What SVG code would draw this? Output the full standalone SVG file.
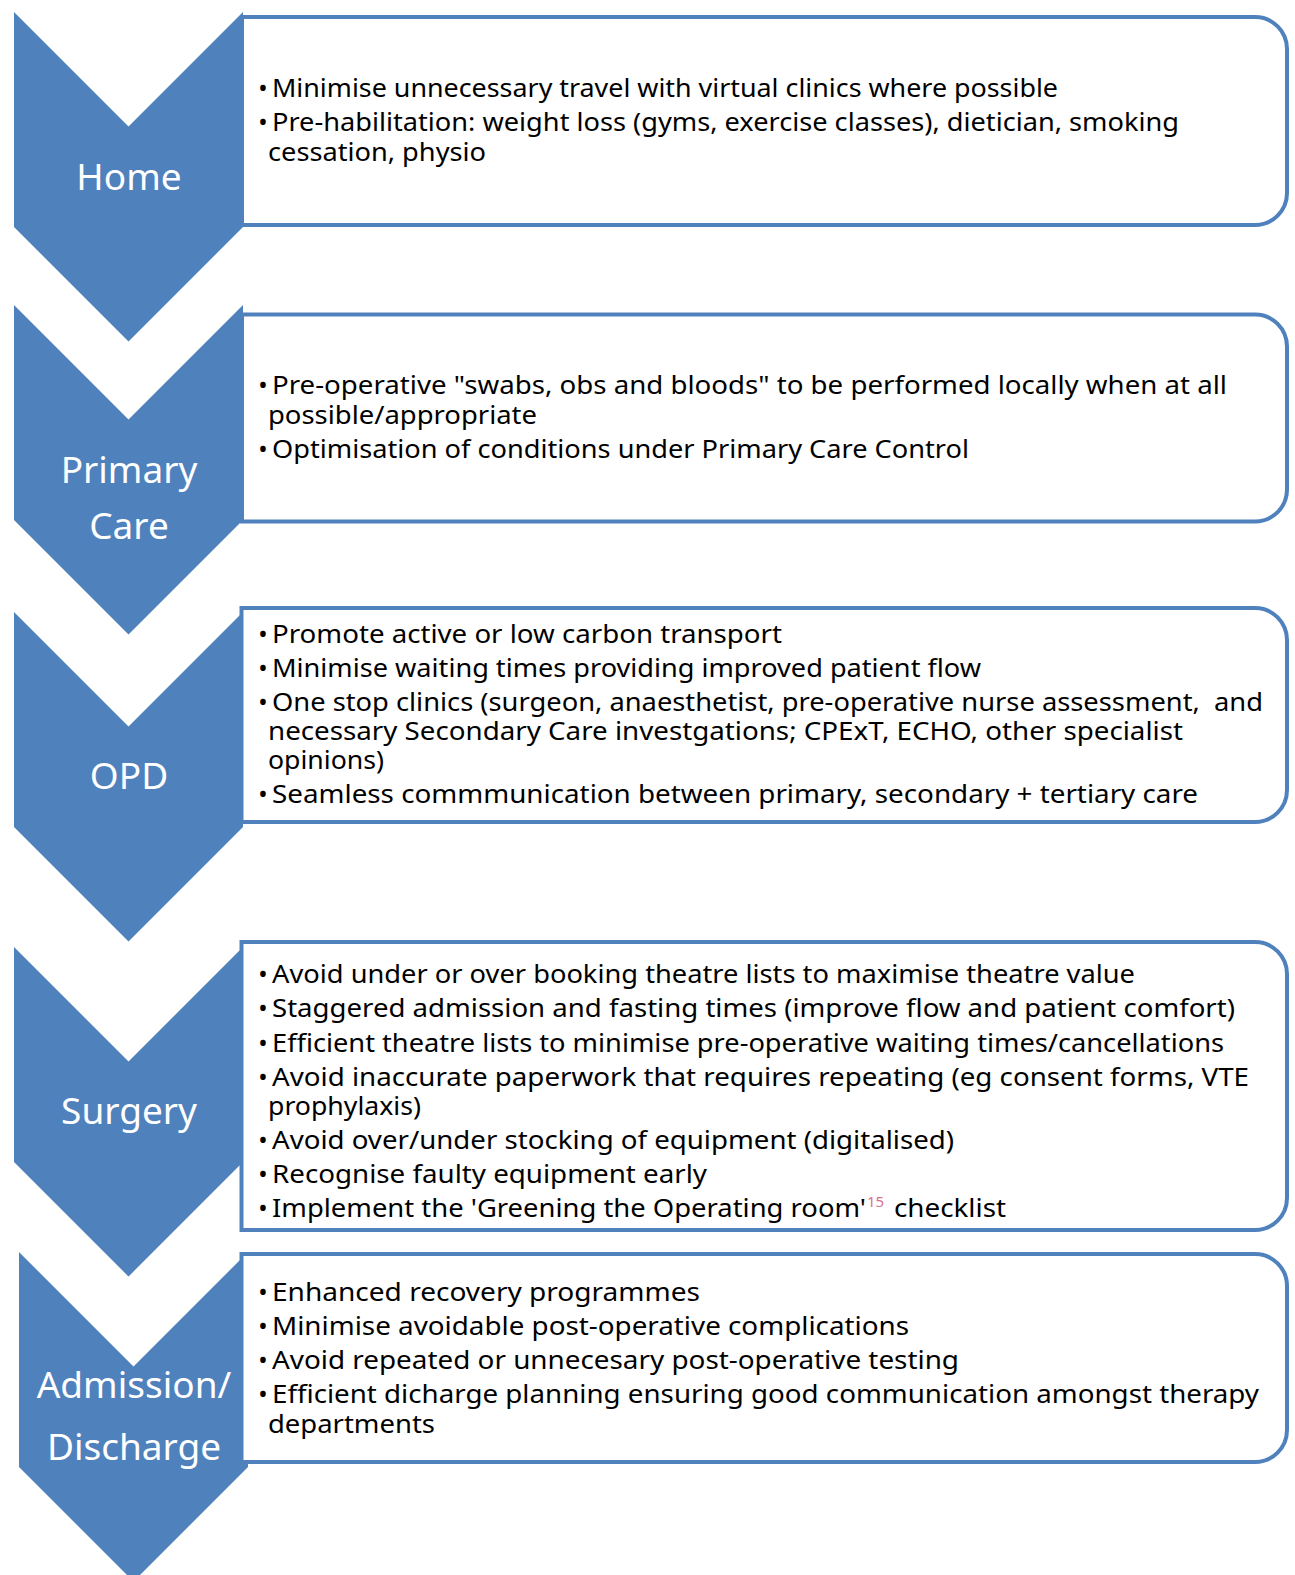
<svg xmlns="http://www.w3.org/2000/svg" width="1295" height="1575" viewBox="0 0 1295 1575">
<style>
.chev{fill:#4F81BD}
.box{fill:#fff;stroke:#4F81BD;stroke-width:4}
.lbl{font-family:"Noto Sans","DejaVu Sans",sans-serif;font-size:37px;fill:#fff;text-anchor:middle}
.t{font-family:"Noto Sans","DejaVu Sans",sans-serif;font-size:25px;fill:#000}
.b{font-family:"Noto Sans","DejaVu Sans",sans-serif;font-size:25px;fill:#000;text-anchor:middle}
.sup{font-family:"Noto Sans","DejaVu Sans",sans-serif;font-size:15px;fill:#D9708F}
</style>
<rect width="1295" height="1575" fill="#fff"/>
<g id="node-home">
<path class="chev" d="M14,12 L128.5,126.5 L243,12 L243,227 L128.5,341.5 L14,227 Z"/>
<path class="box" d="M242,17 H1255 A32,32 0 0 1 1287,49 V193 A32,32 0 0 1 1255,225 H242 Z"/>
<text class="lbl" x="129" y="190">Home</text>
<text class="b" x="263" y="97">•</text>
<text class="t" x="272" y="97" textLength="786" lengthAdjust="spacingAndGlyphs">Minimise unnecessary travel with virtual clinics where possible</text>
<text class="b" x="263" y="131">•</text>
<text class="t" x="272" y="131" textLength="907" lengthAdjust="spacingAndGlyphs">Pre-habilitation: weight loss (gyms, exercise classes), dietician, smoking</text>
<text class="t" x="268" y="161" textLength="218" lengthAdjust="spacingAndGlyphs">cessation, physio</text>
</g>
<g id="node-primary-care">
<path class="chev" d="M14,305 L128.5,419.5 L243,305 L243,520 L128.5,634.5 L14,520 Z"/>
<path class="box" d="M242,314.5 H1255 A32,32 0 0 1 1287,346.5 V489.5 A32,32 0 0 1 1255,521.5 H242 Z"/>
<text class="lbl" x="129" y="483">Primary</text>
<text class="lbl" x="129" y="539">Care</text>
<text class="b" x="263" y="394">•</text>
<text class="t" x="272" y="394" textLength="955" lengthAdjust="spacingAndGlyphs">Pre-operative "swabs, obs and bloods" to be performed locally when at all</text>
<text class="t" x="268" y="424" textLength="269" lengthAdjust="spacingAndGlyphs">possible/appropriate</text>
<text class="b" x="263" y="458">•</text>
<text class="t" x="272" y="458" textLength="697" lengthAdjust="spacingAndGlyphs">Optimisation of conditions under Primary Care Control</text>
</g>
<g id="node-opd">
<path class="chev" d="M14,612 L128.5,726.5 L243,612 L243,827 L128.5,941.5 L14,827 Z"/>
<path class="box" d="M241.5,608 H1255 A32,32 0 0 1 1287,640 V790 A32,32 0 0 1 1255,822 H241.5 Z"/>
<text class="lbl" x="129" y="789">OPD</text>
<text class="b" x="263" y="643">•</text>
<text class="t" x="272" y="643" textLength="510" lengthAdjust="spacingAndGlyphs">Promote active or low carbon transport</text>
<text class="b" x="263" y="677">•</text>
<text class="t" x="272" y="677" textLength="709" lengthAdjust="spacingAndGlyphs">Minimise waiting times providing improved patient flow</text>
<text class="b" x="263" y="711">•</text>
<text class="t" x="272" y="711" textLength="991" lengthAdjust="spacingAndGlyphs" xml:space="preserve">One stop clinics (surgeon, anaesthetist, pre-operative nurse assessment,  and</text>
<text class="t" x="268" y="740" textLength="915" lengthAdjust="spacingAndGlyphs">necessary Secondary Care investgations; CPExT, ECHO, other specialist</text>
<text class="t" x="268" y="769" textLength="116" lengthAdjust="spacingAndGlyphs">opinions)</text>
<text class="b" x="263" y="803">•</text>
<text class="t" x="272" y="803" textLength="926" lengthAdjust="spacingAndGlyphs">Seamless commmunication between primary, secondary + tertiary care</text>
</g>
<g id="node-surgery">
<path class="chev" d="M14,947 L128.5,1061.5 L243,947 L243,1162 L128.5,1276.5 L14,1162 Z"/>
<path class="box" d="M241.5,942 H1255 A32,32 0 0 1 1287,974 V1198 A32,32 0 0 1 1255,1230 H241.5 Z"/>
<text class="lbl" x="129" y="1124">Surgery</text>
<text class="b" x="263" y="983">•</text>
<text class="t" x="272" y="983" textLength="863" lengthAdjust="spacingAndGlyphs">Avoid under or over booking theatre lists to maximise theatre value</text>
<text class="b" x="263" y="1017">•</text>
<text class="t" x="272" y="1017" textLength="963" lengthAdjust="spacingAndGlyphs">Staggered admission and fasting times (improve flow and patient comfort)</text>
<text class="b" x="263" y="1052">•</text>
<text class="t" x="272" y="1052" textLength="952" lengthAdjust="spacingAndGlyphs">Efficient theatre lists to minimise pre-operative waiting times/cancellations</text>
<text class="b" x="263" y="1086">•</text>
<text class="t" x="272" y="1086" textLength="977" lengthAdjust="spacingAndGlyphs">Avoid inaccurate paperwork that requires repeating (eg consent forms, VTE</text>
<text class="t" x="268" y="1115" textLength="153" lengthAdjust="spacingAndGlyphs">prophylaxis)</text>
<text class="b" x="263" y="1149">•</text>
<text class="t" x="272" y="1149" textLength="682" lengthAdjust="spacingAndGlyphs">Avoid over/under stocking of equipment (digitalised)</text>
<text class="b" x="263" y="1183">•</text>
<text class="t" x="272" y="1183" textLength="435" lengthAdjust="spacingAndGlyphs">Recognise faulty equipment early</text>
<text class="b" x="263" y="1217">•</text>
<text class="t" x="272" y="1217" textLength="594" lengthAdjust="spacingAndGlyphs">Implement the 'Greening the Operating room'</text>
<text class="sup" x="867" y="1207">15</text>
<text class="t" x="894" y="1217" textLength="112" lengthAdjust="spacingAndGlyphs">checklist</text>
</g>
<g id="node-admission-discharge">
<path class="chev" d="M19,1252 L133.5,1366.5 L248,1252 L248,1467 L133.5,1581.5 L19,1467 Z"/>
<path class="box" d="M241.5,1254 H1255 A32,32 0 0 1 1287,1286 V1430 A32,32 0 0 1 1255,1462 H241.5 Z"/>
<text class="lbl" x="134" y="1398">Admission/</text>
<text class="lbl" x="134" y="1460">Discharge</text>
<text class="b" x="263" y="1301">•</text>
<text class="t" x="272" y="1301" textLength="428" lengthAdjust="spacingAndGlyphs">Enhanced recovery programmes</text>
<text class="b" x="263" y="1335">•</text>
<text class="t" x="272" y="1335" textLength="637" lengthAdjust="spacingAndGlyphs">Minimise avoidable post-operative complications</text>
<text class="b" x="263" y="1369">•</text>
<text class="t" x="272" y="1369" textLength="687" lengthAdjust="spacingAndGlyphs">Avoid repeated or unnecesary post-operative testing</text>
<text class="b" x="263" y="1403">•</text>
<text class="t" x="272" y="1403" textLength="987" lengthAdjust="spacingAndGlyphs">Efficient dicharge planning ensuring good communication amongst therapy</text>
<text class="t" x="268" y="1433" textLength="167" lengthAdjust="spacingAndGlyphs">departments</text>
</g>
</svg>
